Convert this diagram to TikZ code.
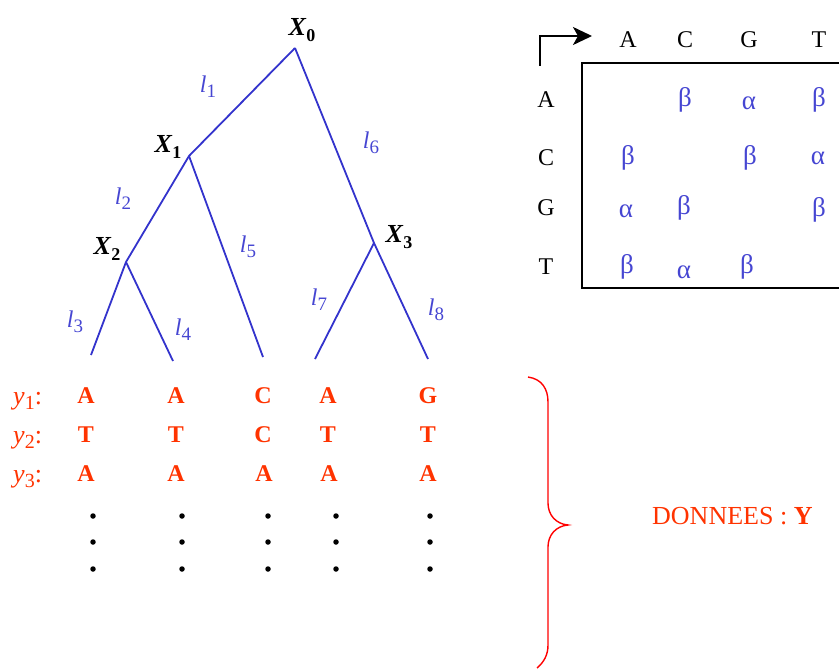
\documentclass[tikz,border=0pt]{standalone}
\usepackage{fontspec}
\setmainfont{Liberation Serif}
\usetikzlibrary{arrows.meta}
\definecolor{treeblue}{RGB}{51,51,204}
\definecolor{labblue}{RGB}{70,70,210}
\definecolor{datared}{RGB}{255,51,0}
\definecolor{bracered}{RGB}{255,0,0}
\newcommand\sublab[3]{#1\raisebox{-0.45ex}{\fontsize{#3}{#3}\selectfont #2}}
\begin{document}
\begin{tikzpicture}[x=1pt,y=-1pt,
  branch/.style={draw=treeblue,line width=1.8pt},
  blab/.style={text=labblue,font=\fontsize{24}{24}\selectfont, inner sep=0},
  xlab/.style={font=\fontsize{26}{26}\selectfont\bfseries, inner sep=0},
  hdr/.style={font=\fontsize{24}{24}\selectfont, inner sep=0},
  ent/.style={text=labblue,font=\fontsize{27}{27}\selectfont, inner sep=0},
  dat/.style={text=datared,font=\fontsize{24}{24}\selectfont\bfseries, inner sep=0, anchor=base},
  ylab/.style={text=datared,font=\fontsize{26}{26}\selectfont, inner sep=0, anchor=base west},
  dotn/.style={circle,fill=black,inner sep=0,minimum size=5.5pt}]
\useasboundingbox (0,0) rectangle (839,669);

% tree
\coordinate (x0) at (295,48);
\coordinate (x1) at (189,156);
\coordinate (x2) at (126,262);
\coordinate (x3) at (374,243);
\coordinate (f1) at (91,355);
\coordinate (f2) at (173,361);
\coordinate (f3) at (263,357);
\coordinate (f4) at (315,359);
\coordinate (f5) at (428,359);
\draw[branch] (x0) -- (x1) -- (x2) -- (f1);
\draw[branch] (x2) -- (f2);
\draw[branch] (x1) -- (f3);
\draw[branch] (x0) -- (x3) -- (f5);
\draw[branch] (x3) -- (f4);

\node[xlab] (nx0) at (302,30) {\sublab{\textit{X}}{0}{18}};
\node[xlab] (nx1) at (168,147) {\sublab{\textit{X}}{1}{18}};
\node[xlab] (nx2) at (107,249) {\sublab{\textit{X}}{2}{18}};
\node[xlab] (nx3) at (399,237) {\sublab{\textit{X}}{3}{18}};

\node[blab] (l1) at (208,87) {\sublab{\textit{l}}{1}{19}};
\node[blab] (l2) at (123,199) {\sublab{\textit{l}}{2}{19}};
\node[blab] (l3) at (75,322) {\sublab{\textit{l}}{3}{19}};
\node[blab] (l4) at (183,330) {\sublab{\textit{l}}{4}{19}};
\node[blab] (l5) at (248,247) {\sublab{\textit{l}}{5}{19}};
\node[blab] (l6) at (371,143) {\sublab{\textit{l}}{6}{19}};
\node[blab] (l7) at (319,300) {\sublab{\textit{l}}{7}{19}};
\node[blab] (l8) at (436,310) {\sublab{\textit{l}}{8}{19}};

% matrix
\draw[line width=2.2pt] (840,63) -- (582,63) -- (582,288) -- (840,288);
\coordinate (as) at (540,66);
\coordinate (ae) at (592,36);
\draw[line width=2pt,-{Stealth[length=19pt,width=18pt,inset=5pt]}] (as) |- (ae);

\node[hdr] (hA) at (628,40) {A};
\node[hdr] (hC) at (685,40) {C};
\node[hdr] (hG) at (749,40) {G};
\node[hdr] (hT) at (819,40) {T};
\node[hdr] (rA) at (546,100) {A};
\node[hdr] (rC) at (546,158) {C};
\node[hdr] (rG) at (546,208) {G};
\node[hdr] (rT) at (546,267) {T};

\node[ent] (eAC) at (685,100) {β};
\node[ent] (eAG) at (749,103) {α};
\node[ent] (eAT) at (819,100) {β};
\node[ent] (eCA) at (628,158) {β};
\node[ent] (eCG) at (750,158) {β};
\node[ent] (eCT) at (818,158) {α};
\node[ent] (eGA) at (626,211) {α};
\node[ent] (eGC) at (684,208) {β};
\node[ent] (eGT) at (819,210) {β};
\node[ent] (eTA) at (627,267) {β};
\node[ent] (eTC) at (684,272) {α};
\node[ent] (eTG) at (747,267) {β};

% data
\node[ylab] (y1) at (13,404) {\sublab{\textit{y}}{1}{20}:};
\node[ylab] (y2) at (13,443) {\sublab{\textit{y}}{2}{20}:};
\node[ylab] (y3) at (13,482) {\sublab{\textit{y}}{3}{20}:};

\node[dat] (d11) at (86,403) {A};
\node[dat] (d12) at (176,403) {A};
\node[dat] (d13) at (263,403) {C};
\node[dat] (d14) at (328,403) {A};
\node[dat] (d15) at (428,403) {G};
\node[dat] (d21) at (86,442) {T};
\node[dat] (d22) at (176,442) {T};
\node[dat] (d23) at (263,442) {C};
\node[dat] (d24) at (328,442) {T};
\node[dat] (d25) at (428,442) {T};
\node[dat] (d31) at (86,481) {A};
\node[dat] (d32) at (176,481) {A};
\node[dat] (d33) at (264,481) {A};
\node[dat] (d34) at (329,481) {A};
\node[dat] (d35) at (428,481) {A};

\foreach \cx [count=\i] in {93,182,268,336,430}{
  \foreach \cy [count=\j] in {516,542,569}{
    \node[dotn] (dot\i\j) at (\cx,\cy) {};
  }
}

% brace
\draw[bracered,line width=1.4pt] (528,377) .. controls (542,379) and (548,389) .. (548,402)
  -- (548,503) .. controls (548,515) and (556,524) .. (568,525)
  .. controls (556,526) and (548,535) .. (548,547)
  -- (548,645) .. controls (548,655) and (544,662) .. (537,668);

\node[text=datared,font=\fontsize{26}{26}\selectfont,inner sep=0,anchor=west] (don) at (652,516) {DONNEES : \textbf{Y}};
\end{tikzpicture}
\end{document}
